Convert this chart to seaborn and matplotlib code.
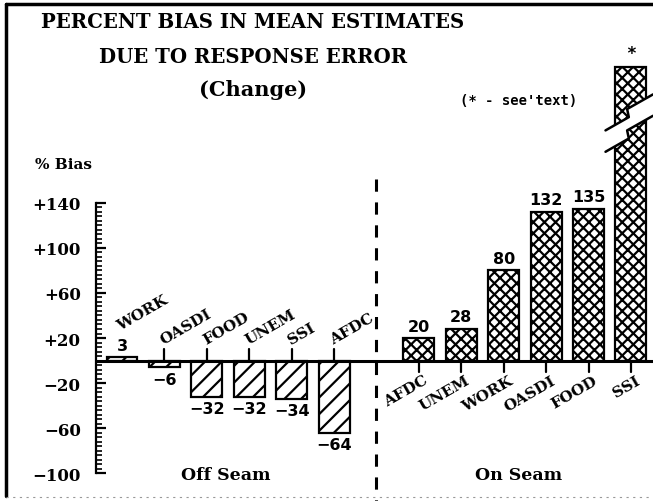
import numpy as np
import pandas as pd
import matplotlib
matplotlib.use("Agg")
import matplotlib.pyplot as plt
from matplotlib.lines import Line2D
from matplotlib.patches import Polygon
from matplotlib.ticker import FixedLocator
import seaborn as sns

# ---------------- data ----------------
off_labels = ["WORK", "OASDI", "FOOD", "UNEM", "SSI", "AFDC"]
off_values = [3, -6, -32, -32, -34, -64]
off_value_text = ["3", "\u22126", "\u221232", "\u221232", "\u221234", "\u221264"]
on_labels = ["AFDC", "UNEM", "WORK", "OASDI", "FOOD", "SSI"]
on_values = [20, 28, 80, 132, 135, 261]          # SSI drawn as a broken (off-scale) bar
on_value_text = ["20", "28", "80", "132", "135", "*"]
ytick_values = [-100, -60, -20, 20, 60, 100, 140]
ytick_labels = ["\u2212100", "\u221260", "\u221220", "+20", "+60", "+100", "+140"]
title_lines = ["PERCENT BIAS IN MEAN ESTIMATES", "DUE TO RESPONSE ERROR", "(Change)"]
group_labels = ["Off Seam", "On Seam"]
broken_label = "SSI"
break_value = 208

# ---------------- style ----------------
sns.set_theme(style="white")
plt.rcParams["font.family"] = ["DejaVu Serif", "DejaVu Sans"]
plt.rcParams["hatch.linewidth"] = 1.6
plt.rcParams["hatch.color"] = "black"
plt.rcParams["text.color"] = "black"
plt.rcParams["ytick.color"] = "black"
plt.rcParams["ytick.labelcolor"] = "black"

keys_off = ["off_" + l for l in off_labels]
keys_on = ["on_" + l for l in on_labels]
order = keys_off + ["gap"] + keys_on
df = pd.DataFrame({
    "key": keys_off + keys_on,
    "value": off_values + on_values,
    "seam": ["Off"] * len(off_labels) + ["On"] * len(on_labels),
})

W, H = 653, 502
fig = plt.figure(figsize=(W / 100, H / 100), dpi=100)
ax = fig.add_axes([96 / W, 12 / H, 557 / W, 480 / H])

sns.barplot(data=df, x="key", y="value", order=order, color="white",
            edgecolor="black", linewidth=1.6, width=0.73, errorbar=None,
            saturation=1, ax=ax, zorder=2)

pos_of = {k: i for i, k in enumerate(order)}
for p in ax.patches:
    idx = int(round(p.get_x() + p.get_width() / 2))
    key = order[idx]
    p.set_hatch("//" if key.startswith("off_") else "xxx")
    p.set_facecolor("white")
    p.set_edgecolor("black")

ax.set_xlim(-0.613, 12.52)
ax.set_ylim(-114.2, 312.4)
ax.set_xlabel("")
ax.set_ylabel("")
ax.set_xticks([])
for s in ["top", "right", "bottom"]:
    ax.spines[s].set_visible(False)
ax.spines["left"].set_bounds(-100, 140)
ax.spines["left"].set_linewidth(1.6)
ax.spines["left"].set_color("black")
ax.yaxis.set_major_locator(FixedLocator(ytick_values))
ax.set_yticklabels(ytick_labels, fontsize=12, fontweight="bold", color="black")
ax.yaxis.set_minor_locator(FixedLocator(list(range(-100, 141, 4))))
ax.tick_params(axis="y", which="major", direction="in", length=7, width=1.6,
               pad=11, left=True, color="black")
ax.tick_params(axis="y", which="minor", direction="in", length=4, width=1.2,
               left=True, color="black")

# baseline
ax.axhline(0, color="black", lw=2.2, zorder=3)

# separator between groups
gap_x = pos_of["gap"]
ax.plot([gap_x, gap_x], [161, -125], color="black", lw=2.2,
        dashes=(4, 3.5), clip_on=False, zorder=3)

lab_font = dict(fontsize=11, fontweight="bold", family="DejaVu Serif", color="black")
val_font = dict(fontsize=11.5, fontweight="bold", family="DejaVu Sans", color="black")

# off seam labels (above the axis)
for lab, v, t in zip(off_labels, off_values, off_value_text):
    i = pos_of["off_" + lab]
    if v < 0:
        ax.plot([i, i], [0, 10], color="black", lw=1.6, zorder=3)
        ax.text(i + 0.02, 12, lab, rotation=30, rotation_mode="anchor",
                ha="left", va="bottom", **lab_font)
        ax.text(i, v - 4, t, ha="center", va="top", **val_font)
    else:
        ax.text(i, v + 4, t, ha="center", va="bottom", **val_font)
        ax.text(i, v + 22, lab, rotation=30, rotation_mode="anchor",
                ha="left", va="bottom", **lab_font)

# on seam labels (below the axis)
for lab, v, t in zip(on_labels, on_values, on_value_text):
    i = pos_of["on_" + lab]
    ax.plot([i, i], [0, -10], color="black", lw=1.6, zorder=3)
    ax.text(i + 0.1, -11, lab, rotation=30, rotation_mode="anchor",
            ha="right", va="top", **lab_font)
    if t == "*":
        ax.text(i, v + 4, t, ha="center", va="bottom", fontsize=12,
                fontweight="bold", family="DejaVu Sans Mono", color="black",
                clip_on=False)
    else:
        ax.text(i, v + 4, t, ha="center", va="bottom", **val_font)

# break marks on the off-scale bar
c = pos_of["on_" + broken_label]
zig = np.array([(-0.6, -13.0), (-0.05, -1.2), (-0.09, 6.0), (0.52, 19.0)])
upper = zig + np.array([c, break_value + 9.5])
lower = zig + np.array([c, break_value - 9.5])
band = np.vstack([upper, lower[::-1]])
ax.add_patch(Polygon(band, closed=True, facecolor="white", edgecolor="none",
                     zorder=4, clip_on=False))
ax.plot(upper[:, 0], upper[:, 1], color="black", lw=1.8, zorder=5, clip_on=False)
ax.plot(lower[:, 0], lower[:, 1], color="black", lw=1.8, zorder=5, clip_on=False)

# group labels
off_pos = [pos_of[k] for k in keys_off]
on_pos = [pos_of[k] for k in keys_on]
ax.text(np.mean(off_pos) - 0.05, -101, group_labels[0], ha="center", va="center",
        fontsize=12.5, fontweight="bold", color="black")
ax.text(np.mean(on_pos) - 0.15, -101, group_labels[1], ha="center", va="center",
        fontsize=12.5, fontweight="bold", color="black")

# titles and notes
for txt, yp, fs in zip(title_lines, [22, 57, 90], [14.2, 14.2, 15]):
    fig.text(253 / W, 1 - yp / H, txt, ha="center", va="center",
             fontsize=fs, fontweight="bold", family="DejaVu Serif", color="black")
fig.text(460 / W, 1 - 101 / H, "(* - see'text)", ha="left", va="center",
         fontsize=10, fontweight="bold", family="DejaVu Sans Mono", color="black")
fig.text(35 / W, 1 - 165 / H, "% Bias", ha="left", va="center",
         fontsize=11, fontweight="bold", family="DejaVu Serif", color="black")

# frame of the page
fig.add_artist(Line2D([6 / W, 6 / W], [1 - 5 / H, 1 - 497 / H], color="black", lw=2.5))
fig.add_artist(Line2D([6 / W, 1.0], [1 - 5 / H, 1 - 5 / H], color="black", lw=2.5))
fig.add_artist(Line2D([6 / W, 1.0], [1 - 498 / H, 1 - 498 / H], color="#999999",
                      lw=0.8, dashes=(2, 4)))

fig.savefig("out.png", dpi=100)
